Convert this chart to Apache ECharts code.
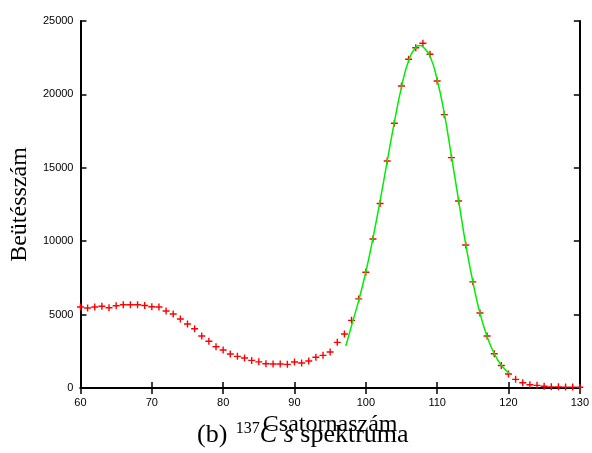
<!DOCTYPE html>
<html><head><meta charset="utf-8">
<script src="https://cdn.jsdelivr.net/npm/echarts@6/dist/echarts.min.js"></script>
<style>html,body{margin:0;padding:0;background:#fff}#c{width:592px;height:453px}</style>
</head><body><div id="c"></div>
<script>
// Measured spectrum (channel, counts)
const channels = [60,61,62,63,64,65,66,67,68,69,70,71,72,73,74,75,76,77,78,79,80,81,82,83,84,85,86,87,88,89,90,91,92,93,94,95,96,97,98,99,100,101,102,103,104,105,106,107,108,109,110,111,112,113,114,115,116,117,118,119,120,121,122,123,124,125,126,127,128,129,130];
const counts = [5520,5450,5520,5565,5470,5606,5674,5674,5674,5620,5538,5515,5245,5040,4700,4360,4040,3540,3180,2810,2590,2316,2157,2040,1880,1780,1657,1634,1634,1612,1770,1703,1840,2090,2225,2450,3110,3680,4610,6070,7880,10150,12570,15460,18030,20570,22390,23180,23480,22730,20910,18620,15690,12740,9740,7230,5110,3540,2330,1530,950,590,360,225,180,116,80,80,60,60,50];
// Fitted peak curve
const fitX = [97.2,98,99,100,101,102,103,104,105,106,107,107.6,108,109,110,111,112,113,114,115,116,117,118,119,120.1];
const fitY = [2860,4250,5950,7900,10200,12750,15450,18100,20500,22300,23200,23330,23250,22600,21000,18700,15800,12800,9800,7250,5100,3500,2350,1550,1000];
const xTickLabels = ['60','70','80','90','100','110','120','130'];
const yTickLabels = ['0','5000','10000','15000','20000','25000'];

const chart = echarts.init(document.getElementById('c'));
const axisLine = {show:true, lineStyle:{color:'#000', width:2}};
const tick = {show:true, inside:true, length:6, lineStyle:{color:'#000', width:1.5}};
const lbl = {color:'#000', fontFamily:'Liberation Sans', fontSize:11};
chart.setOption({
  animation:false,
  backgroundColor:'#fff',
  title:{
    text:'{n|(b) }{sup|137}{it|C s}{n| spektruma}',
    left:192, top:416,
    textStyle:{
      fontWeight:'normal',
      rich:{
        n:{fontFamily:'Liberation Serif', fontWeight:'normal', fontSize:26, color:'#000', lineHeight:28},
        sup:{fontFamily:'Liberation Serif', fontWeight:'normal', fontSize:16, color:'#000', lineHeight:28, verticalAlign:'top', padding:[0,0,0,2]},
        it:{fontFamily:'Liberation Serif', fontWeight:'normal', fontStyle:'italic', fontSize:26, color:'#000', lineHeight:28}
      }
    }
  },
  grid:{left:79, top:21, right:12, bottom:65},
  xAxis:[
    {type:'value', min:60, max:130, interval:10, position:'bottom',
     axisLine, axisTick:tick, splitLine:{show:false},
     axisLabel:Object.assign({margin:9, formatter:v=>xTickLabels[(v-60)/10]}, lbl),
     name:'Csatornaszám', nameLocation:'middle', nameGap:16,
     nameTextStyle:{fontFamily:'Liberation Serif', fontSize:24, color:'#000'}},
    {type:'value', min:60, max:130, interval:10, position:'top',
     axisLine, axisTick:tick, splitLine:{show:false}, axisLabel:{show:false}}
  ],
  yAxis:[
    {type:'value', min:0, max:25000, interval:5000, position:'left',
     axisLine, axisTick:tick, splitLine:{show:false},
     axisLabel:Object.assign({margin:7, formatter:v=>yTickLabels[v/5000]}, lbl),
     name:'Beütésszám', nameLocation:'middle', nameRotate:90, nameGap:35,
     nameTextStyle:{fontFamily:'Liberation Serif', fontSize:24, color:'#000'}},
    {type:'value', min:0, max:25000, interval:5000, position:'right',
     axisLine, axisTick:tick, splitLine:{show:false}, axisLabel:{show:false}}
  ],
  series:[
    {type:'scatter', data:channels.map((c,i)=>[c,counts[i]]),
     symbol:'path://M-1,-0.2 H1 V0.2 H-1 Z M-0.2,-1 H0.2 V1 H-0.2 Z',
     symbolSize:7, itemStyle:{color:'#ff0000', opacity:1}, z:2, clip:false},
    {type:'line', data:fitX.map((x,i)=>[x,fitY[i]]), smooth:true, showSymbol:false,
     lineStyle:{color:'#00ee00', width:1.5}, itemStyle:{color:'#00ee00'}, z:3}
  ]
});
</script></body></html>
